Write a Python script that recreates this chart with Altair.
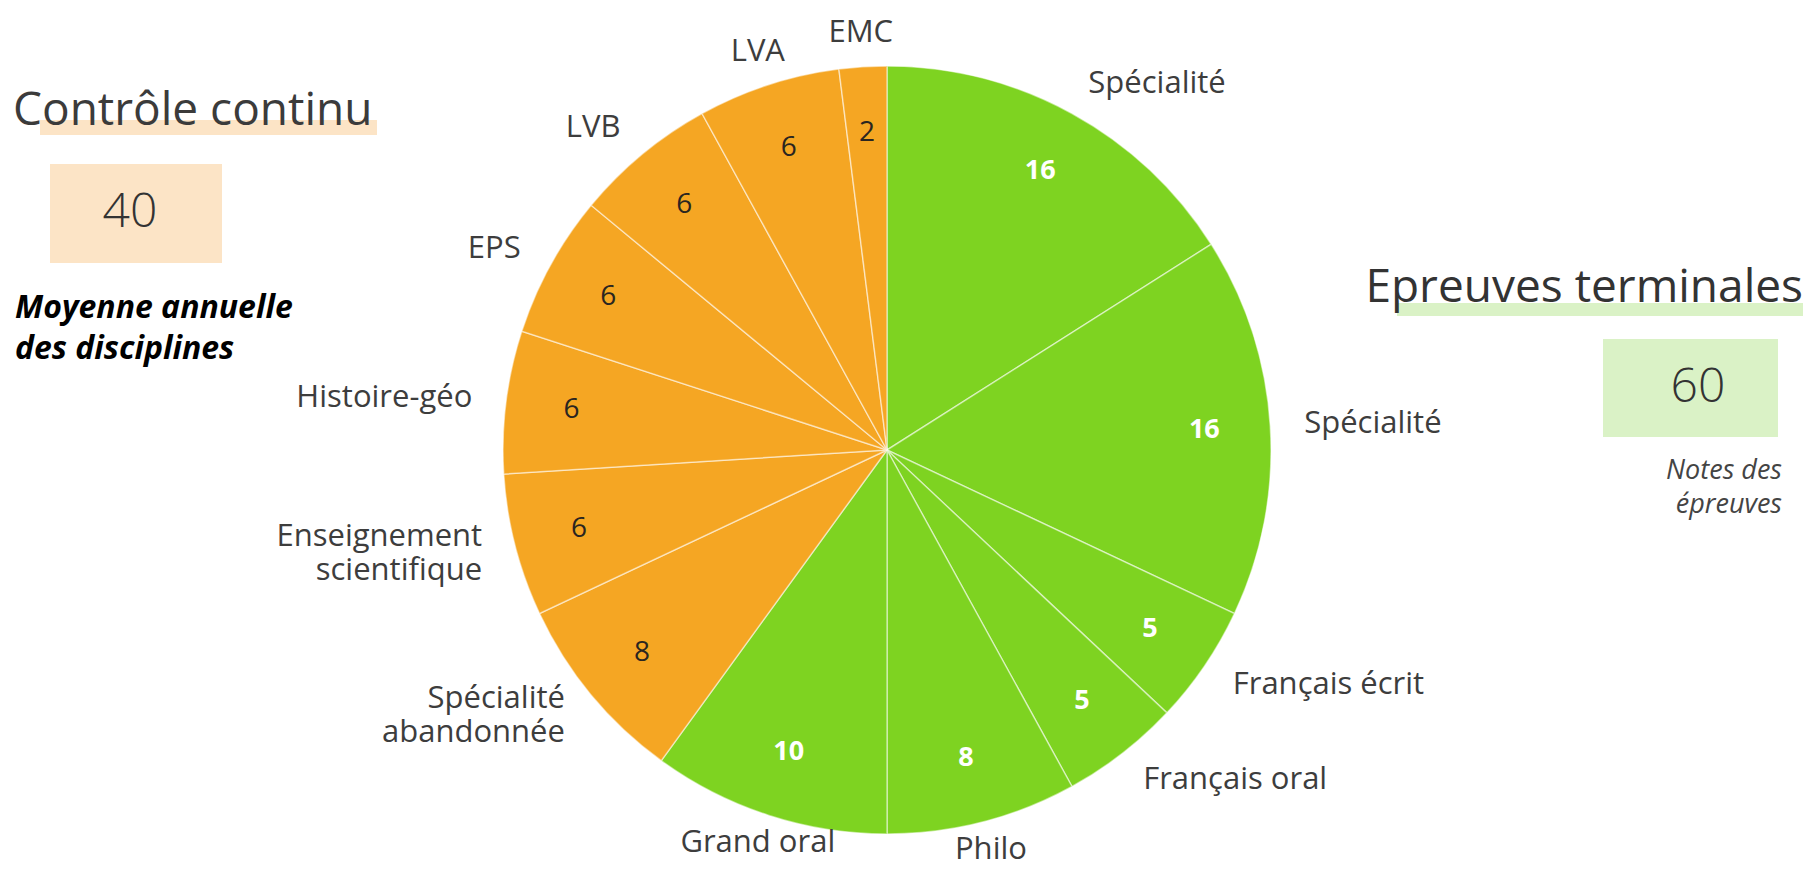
import altair as alt
import pandas as pd

# ---------------- data (clockwise from 12 o'clock) ----------------
labels = ["Spécialité", "Spécialité", "Français écrit", "Français oral", "Philo", "Grand oral",
          "Spécialité\nabandonnée", "Enseignement\nscientifique", "Histoire-géo", "EPS",
          "LVB", "LVA", "EMC"]
values = [16, 16, 5, 5, 8, 10, 8, 6, 6, 6, 6, 6, 2]
groups = ["Epreuves terminales"] * 6 + ["Contrôle continu"] * 7

group_names = ["Contrôle continu", "Epreuves terminales"]
group_totals = ["40", "60"]
group_notes = ["Moyenne annuelle\ndes disciplines", "Notes des\népreuves"]

ORANGE = "#F5A623"
GREEN = "#7ED321"
PEACH = "#FCE4C6"
LIGHTGREEN = "#DAF2C6"
FONT = "Open Sans"
LINE_H = 34

df = pd.DataFrame({"label": labels, "value": values, "group": groups,
                   "order": list(range(len(labels)))})

theta_scale = alt.Scale(domain=[0, 1], range=[0, 6.283185307179586])

base = (
    alt.Chart(df)
    .transform_window(cum="sum(value)", sort=[alt.SortField("order")], frame=[None, 0])
    .transform_joinaggregate(total="sum(value)")
    .transform_calculate(
        start="(datum.cum - datum.value) / datum.total",
        end="datum.cum / datum.total",
        mid="(datum.cum - datum.value / 2) / datum.total",
        multiline="indexof(datum.label, '\\n') >= 0",
    )
    .transform_calculate(
        side="sin(2 * PI * datum.mid) > 0.45 ? 'left' : "
             "(sin(2 * PI * datum.mid) < -0.45 ? 'right' : "
             "(cos(2 * PI * datum.mid) > 0 ? 'top' : 'bottom'))"
    )
)

arcs = base.mark_arc(outerRadius=384, stroke="white", strokeWidth=1.5,
                     strokeOpacity=0.5).encode(
    theta=alt.Theta("start:Q", scale=theta_scale),
    theta2="end:Q",
    color=alt.Color("group:N", scale=alt.Scale(domain=group_names, range=[ORANGE, GREEN]),
                    legend=None),
)

vals_green = base.transform_filter(f"datum.group == '{group_names[1]}'").mark_text(
    radius=318, font=FONT, fontSize=27, fontWeight="bold", color="white",
    baseline="middle", align="center"
).encode(theta=alt.Theta("mid:Q", scale=theta_scale), text="value:Q")

vals_orange = base.transform_filter(f"datum.group == '{group_names[0]}'").mark_text(
    radius=318, font=FONT, fontSize=28, color="#2a2520",
    baseline="middle", align="center"
).encode(theta=alt.Theta("mid:Q", scale=theta_scale), text="value:Q")

label_layers = []
for side in ["left", "right", "top", "bottom"]:
    for multi in [False, True]:
        cond = "datum.multiline" if multi else "!datum.multiline"
        dy = -LINE_H / 2 if multi else (-5 if side == "bottom" else 0)
        align = side if side in ("left", "right") else "center"
        label_layers.append(
            base.transform_filter(f"datum.side == '{side}' && {cond}").mark_text(
                radius=418, font=FONT, fontSize=31, color="#3d3d3d", align=align,
                baseline="middle", lineBreak="\n", lineHeight=LINE_H, dy=dy
            ).encode(theta=alt.Theta("mid:Q", scale=theta_scale), text="label:N")
        )

one = pd.DataFrame({"a": [0]})


def rect(x1, x2, y1, y2, color):
    return alt.Chart(one).mark_rect(color=color).encode(
        x=alt.value(x1), x2=alt.value(x2), y=alt.value(y1), y2=alt.value(y2))


def txt(s, x, y, **kw):
    return alt.Chart(pd.DataFrame({"t": [s]})).mark_text(font=FONT, **kw).encode(
        x=alt.value(x), y=alt.value(y), text="t:N")


# left block: Contrôle continu
left_band = rect(32, 369, 91, 106, PEACH)
left_box = rect(42, 214, 135, 234, PEACH)
left_title = txt(group_names[0], 5, 96, align="left", baseline="alphabetic",
                 fontSize=46, color="#3b3b3b")
left_total = txt(group_totals[0], 122, 184, align="center", baseline="middle",
                 fontSize=48, fontWeight=300, color="#333333")
left_note = txt(group_notes[0], 7, 289, align="left", baseline="alphabetic",
                fontSize=32, fontWeight="bold", fontStyle="italic", color="black",
                lineBreak="\n", lineHeight=41)

# right block: Epreuves terminales
right_band = rect(1389, 1795, 274, 287, LIGHTGREEN)
right_box = rect(1595, 1770, 310, 408, LIGHTGREEN)
right_title = txt(group_names[1], 1795, 273, align="right", baseline="alphabetic",
                  fontSize=46, color="#333333")
right_total = txt(group_totals[1], 1690, 359, align="center", baseline="middle",
                  fontSize=48, fontWeight=300, color="#333333")
right_note = txt(group_notes[1], 1774, 450, align="right", baseline="alphabetic",
                 fontSize=27, fontStyle="italic", color="#444444",
                 lineBreak="\n", lineHeight=34)

chart = alt.layer(
    left_band, left_box, right_band, right_box,
    arcs, vals_green, vals_orange, *label_layers,
    left_title, left_total, left_note, right_title, right_total, right_note,
).properties(
    width=1758, height=842,
    padding={"left": 0, "top": 21, "right": 38, "bottom": 0},
    autosize=alt.AutoSizeParams(type="none"),
).configure_view(stroke=None)

chart.save("out.html", embed_options={"renderer": "svg", "actions": False})
